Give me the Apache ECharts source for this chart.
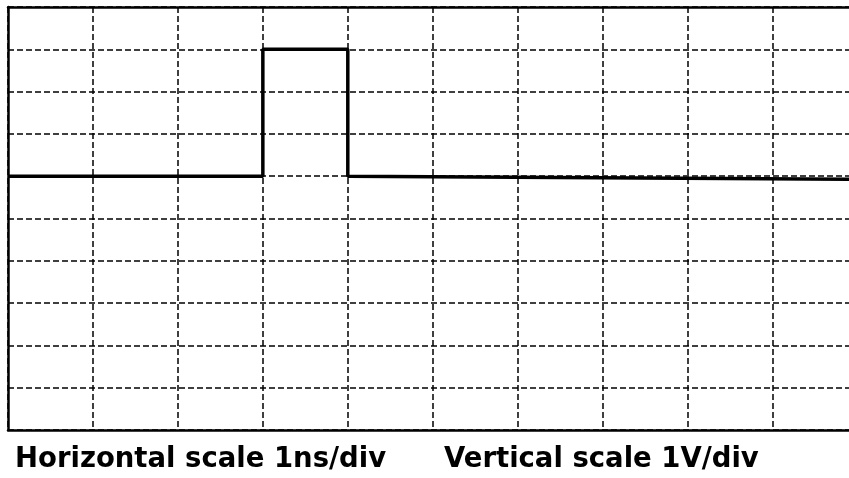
<!DOCTYPE html>
<html><head><meta charset="utf-8">
<script src="https://cdn.jsdelivr.net/npm/echarts@6/dist/echarts.min.js"></script>
<style>html,body{margin:0;padding:0;background:#fff}#c{width:849px;height:478px}</style>
</head><body><div id="c"></div>
<script>
// time in divisions (1 ns/div), voltage in divisions (1 V/div)
const timeDiv = [0, 3, 3, 4, 4, 9.9];
const voltDiv = [0, 0, 3, 3, 0, -0.07];
const xLabel = 'Horizontal scale 1ns/div';
const yLabel = 'Vertical scale 1V/div';

const chart = echarts.init(document.getElementById('c'));
const dash = {color:'#000', width:1.5, type:[6,3]};
const solid = {color:'#000', width:2.5};
const txt = {fontFamily:'DejaVu Sans', fontSize:27.5, fontWeight:'bold', color:'#000'};
chart.setOption({
  animation:false,
  backgroundColor:'#fff',
  grid:{left:8, top:7, right:0, height:423, show:false},
  xAxis:[
    {type:'value', min:0, max:9.9, interval:1, position:'bottom', axisLine:{show:true, onZero:false, lineStyle:solid}, axisTick:{show:false}, axisLabel:{show:false}, splitLine:{show:true, showMaxLine:false, lineStyle:dash}},
    {type:'value', min:0, max:9.9, interval:1, position:'top', axisLine:{show:true, onZero:false, lineStyle:solid}, axisTick:{show:false}, axisLabel:{show:false}, splitLine:{show:false}}
  ],
  yAxis:{type:'value', min:-6, max:4, interval:1, position:'left', axisLine:{show:true, onZero:false, lineStyle:solid}, axisTick:{show:false}, axisLabel:{show:false}, splitLine:{show:true, lineStyle:dash}},
  title:[
    {text:xLabel, left:15, top:446, textStyle:txt, padding:0},
    {text:yLabel, left:444, top:446, textStyle:txt, padding:0}
  ],
  series:[{type:'line', xAxisIndex:0, data:timeDiv.map((t,i)=>[t, voltDiv[i]]), symbol:'none', lineStyle:{color:'#000', width:3.5}}]
});
</script></body></html>
